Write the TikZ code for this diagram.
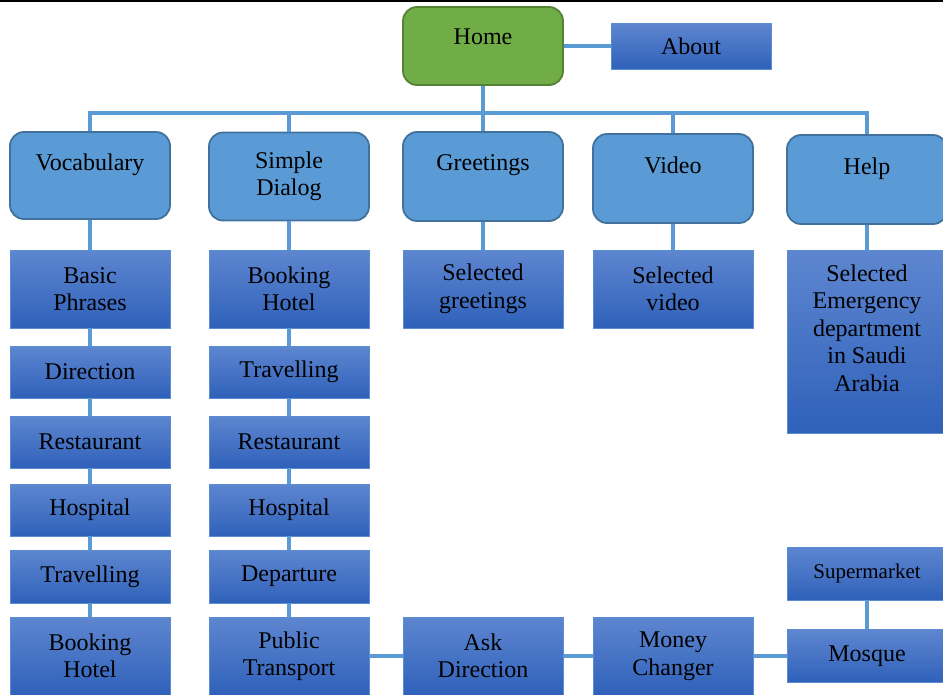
\documentclass[tikz,border=0pt]{standalone}
\usepackage{fontspec}
\setmainfont{Liberation Serif}

\definecolor{linkblue}{RGB}{91,155,213}
\definecolor{homegreen}{RGB}{112,173,71}
\definecolor{homeedge}{RGB}{84,130,53}
\definecolor{menufill}{RGB}{91,155,213}
\definecolor{menuedge}{RGB}{65,113,156}
\definecolor{leaftop}{RGB}{94,134,208}
\definecolor{leafbot}{RGB}{47,97,186}
\definecolor{leafedge}{RGB}{92,140,210}

\begin{document}
\begin{tikzpicture}[x=1pt, y=-1pt,
	font=\fontsize{24}{27.5}\selectfont,
	link/.style={draw=linkblue, line width=3.5pt},
	homebox/.style={rectangle, rounded corners=14pt, fill=homegreen, draw=homeedge, line width=1.8pt,
		minimum width=160, minimum height=78, align=center, inner sep=0pt},
	menubox/.style={rectangle, rounded corners=14pt, fill=menufill, draw=menuedge, line width=1.8pt,
		minimum width=160, align=center, inner sep=0pt},
	leafbox/.style={rectangle, top color=leaftop, bottom color=leafbot, draw=leafedge, line width=0.8pt,
		minimum width=160, align=center, inner sep=0pt}]
				\useasboundingbox (0,0) rectangle (943,694);
				\draw[line width=1.5pt] (0,0.75) -- (943,0.75);
				% home
				\node[homebox] (home) at (483,46) {Home\\[-8pt]~};
				\node[leafbox, minimum height=46] (about) at (691,46) {About};
				% menu
				\node[menubox, minimum height=87] (vocab)  at (90,175.5)  {Vocabulary\\~};
				\node[menubox, minimum height=88] (dialog) at (289,176.5) {Simple\\Dialog};
				\node[menubox, minimum height=89] (greet)  at (483,176.5) {Greetings\\~};
				\node[menubox, minimum height=89] (video)  at (673,178.5) {Video\\~};
				\node[menubox, minimum height=89] (help)   at (867,179.5) {Help\\~};
				% vocabulary pages
				\node[leafbox, minimum height=78] (vphrases)    at (90,289)   {Basic\\Phrases};
				\node[leafbox, minimum height=52] (vdirection)  at (90,372)   {Direction};
				\node[leafbox, minimum height=52] (vrestaurant) at (90,442)   {Restaurant};
				\node[leafbox, minimum height=52] (vhospital)   at (90,510)   {Hospital};
				\node[leafbox, minimum height=53] (vtravel)     at (90,576.5) {Travelling};
				\node[leafbox, minimum height=78] (vhotel)      at (90,656)   {Booking\\Hotel};
				% dialog pages
				\node[leafbox, minimum height=78] (dhotel)      at (289,289)   {Booking\\Hotel};
				\node[leafbox, minimum height=52] (dtravel)     at (289,372)   {Travelling};
				\node[leafbox, minimum height=52] (drestaurant) at (289,442)   {Restaurant};
				\node[leafbox, minimum height=52] (dhospital)   at (289,510)   {Hospital};
				\node[leafbox, minimum height=53] (ddeparture)  at (289,576.5) {Departure};
				\node[leafbox, minimum height=78] (dtransport)  at (289,656)   {Public\\Transport};
				% other pages
				\node[leafbox, minimum height=78]  (sgreet)  at (483,289)   {Selected\\greetings};
				\node[leafbox, minimum height=78]  (svideo)  at (673,289)   {Selected\\video};
				\node[leafbox, minimum height=183] (shelp)   at (867,341.5) {Selected\\Emergency\\department\\in Saudi\\Arabia\\~};
				\node[leafbox, minimum height=78]  (ask)     at (483,656)   {Ask\\Direction};
				\node[leafbox, minimum height=78]  (money)   at (673,656)   {Money\\Changer};
				\node[leafbox, minimum height=53]  (mosque)  at (867,656)   {Mosque};
				\node[leafbox, minimum height=53, font=\fontsize{21}{25}\selectfont] (market) at (867,573.5) {Supermarket};
				
				% links
				\draw[link] (home.east) -- (about.west);
				\foreach \m in {vocab,dialog,greet,video,help}
				\draw[link] (home.south) -- ++(0,27) -| (\m.north);
				\foreach \a/\b in {vocab/vphrases,vphrases/vdirection,vdirection/vrestaurant,
					vrestaurant/vhospital,vhospital/vtravel,vtravel/vhotel,
					dialog/dhotel,dhotel/dtravel,dtravel/drestaurant,drestaurant/dhospital,
					dhospital/ddeparture,ddeparture/dtransport,
					greet/sgreet,video/svideo,help/shelp,market/mosque}
				\draw[link] (\a.south) -- (\b.north);
				\draw[link] (dtransport.east) -- (ask.west);
				\draw[link] (ask.east) -- (money.west);
				\draw[link] (money.east) -- (mosque.west);
			\end{tikzpicture}
\end{document}
